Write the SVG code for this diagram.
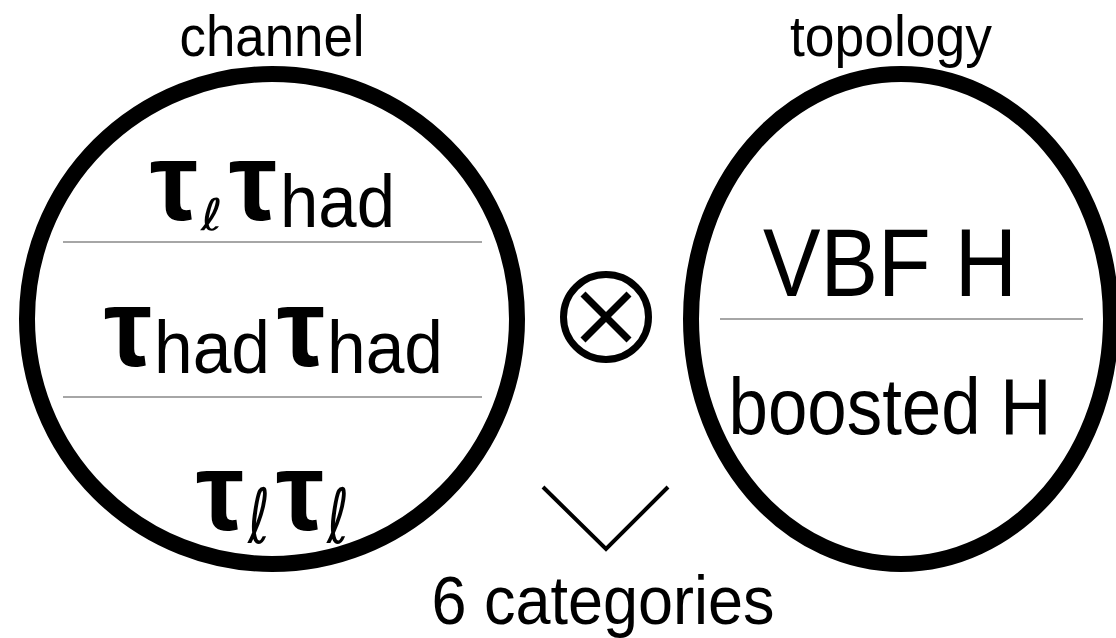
<svg xmlns="http://www.w3.org/2000/svg" width="1116" height="638" viewBox="0 0 1116 638">
  <style>
    .ring { fill: #fff; stroke: #000; stroke-width: 16; }
    .sep { stroke: #a6a6a6; stroke-width: 2; }
    .lbl { font-family: "Liberation Sans", Arial, sans-serif; fill: #000; }
    .tau { font-family: "Liberation Sans", Arial, sans-serif; font-weight: bold; fill: #000; }
    .ell { font-family: "DejaVu Sans", sans-serif; fill: #000; }
    .thin { fill: none; stroke: #000; }
  </style>

  <!-- decay channels -->
  <g id="channel">
    <circle class="ring" cx="272" cy="319" r="245"/>
    <line class="sep" x1="63" y1="242" x2="482" y2="242"/>
    <line class="sep" x1="63" y1="397" x2="482" y2="397"/>
    <text class="lbl" x="272" y="56" font-size="57" text-anchor="middle" textLength="185" lengthAdjust="spacingAndGlyphs">channel</text>
    <!-- tau_l tau_had -->
    <text class="tau" x="150" y="220" font-size="112" textLength="48" lengthAdjust="spacingAndGlyphs">τ</text>
    <text class="ell" x="201" y="230" font-size="44" textLength="22" lengthAdjust="spacingAndGlyphs">ℓ</text>
    <text class="tau" x="229" y="220" font-size="112" textLength="48" lengthAdjust="spacingAndGlyphs">τ</text>
    <text class="lbl" x="280" y="227" font-size="75" textLength="115" lengthAdjust="spacingAndGlyphs">had</text>
    <!-- tau_had tau_had -->
    <text class="tau" x="104" y="366" font-size="112" textLength="48" lengthAdjust="spacingAndGlyphs">τ</text>
    <text class="lbl" x="154" y="373" font-size="75" textLength="116" lengthAdjust="spacingAndGlyphs">had</text>
    <text class="tau" x="277" y="366" font-size="112" textLength="48" lengthAdjust="spacingAndGlyphs">τ</text>
    <text class="lbl" x="327" y="373" font-size="75" textLength="116" lengthAdjust="spacingAndGlyphs">had</text>
    <!-- tau_l tau_l -->
    <text class="tau" x="196" y="530" font-size="112" textLength="48" lengthAdjust="spacingAndGlyphs">τ</text>
    <text class="ell" x="248" y="543" font-size="76" textLength="22" lengthAdjust="spacingAndGlyphs">ℓ</text>
    <text class="tau" x="276" y="530" font-size="112" textLength="48" lengthAdjust="spacingAndGlyphs">τ</text>
    <text class="ell" x="327" y="543" font-size="76" textLength="22" lengthAdjust="spacingAndGlyphs">ℓ</text>
  </g>

  <!-- production topologies -->
  <g id="topology">
    <ellipse class="ring" cx="901" cy="319" rx="210" ry="245" stroke-width="17"/>
    <line class="sep" x1="720" y1="319" x2="1083" y2="319"/>
    <text class="lbl" x="891" y="56" font-size="57" text-anchor="middle" textLength="202" lengthAdjust="spacingAndGlyphs">topology</text>
    <text class="lbl" x="890" y="296" font-size="96" text-anchor="middle" textLength="254" lengthAdjust="spacingAndGlyphs">VBF H</text>
    <text class="lbl" x="890" y="434" font-size="79" text-anchor="middle" textLength="323" lengthAdjust="spacingAndGlyphs">boosted H</text>
  </g>

  <!-- product operator -->
  <g id="otimes">
    <circle class="thin" cx="606" cy="317" r="42.5" stroke-width="7"/>
    <line class="thin" x1="583" y1="294" x2="629" y2="340" stroke-width="7"/>
    <line class="thin" x1="629" y1="294" x2="583" y2="340" stroke-width="7"/>
  </g>

  <g id="connectors">
    <polyline class="thin" points="543,487 606,549 668,487" stroke-width="4"/>
  </g>

  <g id="result">
    <text class="lbl" x="603" y="624" font-size="68" text-anchor="middle" textLength="343" lengthAdjust="spacingAndGlyphs">6 categories</text>
  </g>
</svg>
